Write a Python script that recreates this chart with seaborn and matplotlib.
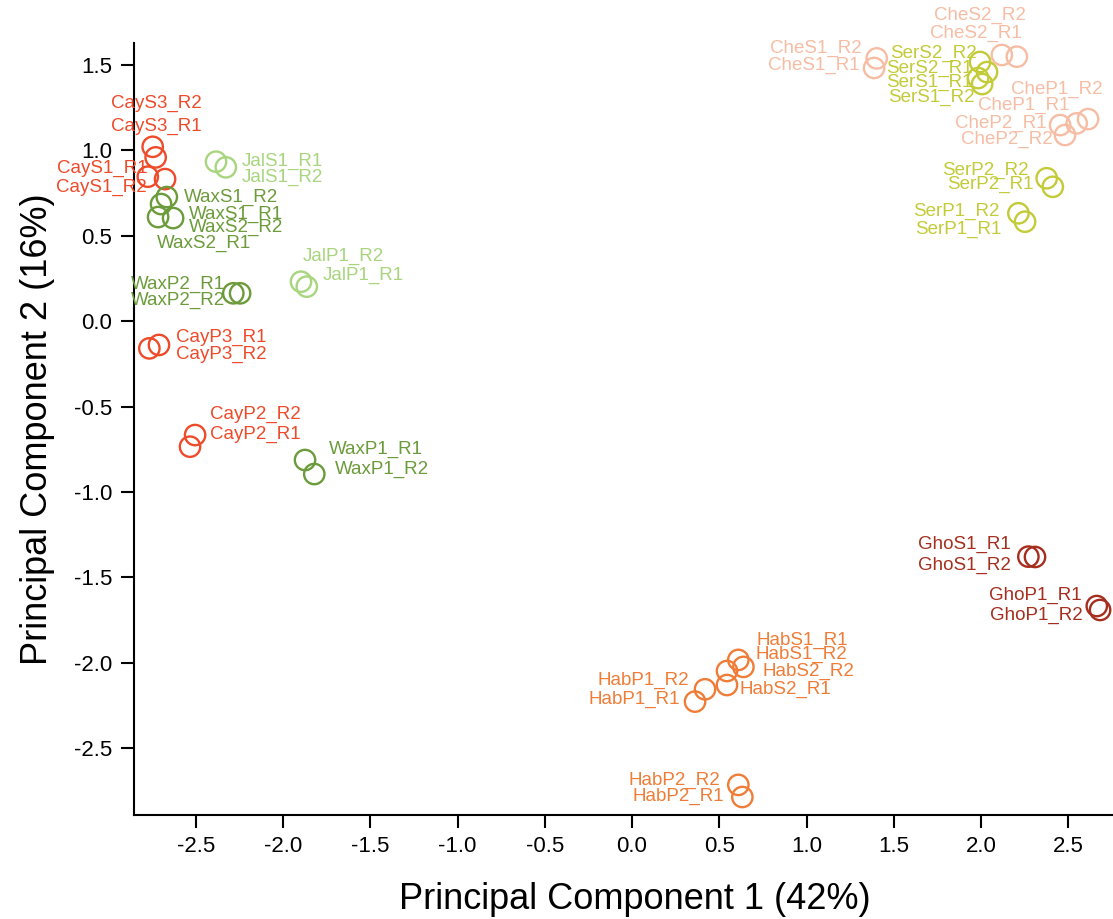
import matplotlib
matplotlib.use("Agg")
import matplotlib.pyplot as plt
import seaborn as sns
import pandas as pd

# ---------------- data ----------------
groups = ["Cay", "Wax", "Jal", "Che", "Ser", "Hab", "Gho"]
group_colors = ["#EE4B2B", "#6B9B3A", "#A8D57E", "#F6BDA4", "#C3CB38", "#EF7D38", "#A52F1F"]

sample_names = [
    "CayS3_R2", "CayS3_R1", "CayS1_R1", "CayS1_R2", "CayP3_R1", "CayP3_R2", "CayP2_R2", "CayP2_R1",
    "WaxS1_R2", "WaxS1_R1", "WaxS2_R2", "WaxS2_R1", "WaxP2_R1", "WaxP2_R2", "WaxP1_R1", "WaxP1_R2",
    "JalS1_R1", "JalS1_R2", "JalP1_R2", "JalP1_R1",
    "CheS1_R2", "CheS1_R1", "CheS2_R2", "CheS2_R1", "CheP1_R2", "CheP1_R1", "CheP2_R1", "CheP2_R2",
    "SerS2_R2", "SerS2_R1", "SerS1_R1", "SerS1_R2", "SerP2_R2", "SerP2_R1", "SerP1_R2", "SerP1_R1",
    "HabS1_R1", "HabS1_R2", "HabS2_R2", "HabS2_R1", "HabP1_R2", "HabP1_R1", "HabP2_R2", "HabP2_R1",
    "GhoS1_R1", "GhoS1_R2", "GhoP1_R1", "GhoP1_R2",
]

pc1 = [
    -2.747, -2.730, -2.775, -2.676, -2.711, -2.766, -2.504, -2.533,
    -2.666, -2.699, -2.630, -2.716, -2.285, -2.246, -1.874, -1.821,
    -2.384, -2.328, -1.897, -1.864,
    1.402, 1.387, 2.119, 2.205, 2.613, 2.548, 2.453, 2.481,
    1.994, 2.034, 1.983, 2.006, 2.376, 2.411, 2.214, 2.252,
    0.609, 0.638, 0.544, 0.544, 0.418, 0.361, 0.609, 0.632,
    2.271, 2.309, 2.663, 2.682,
]

pc2 = [
    1.019, 0.957, 0.844, 0.830, -0.140, -0.160, -0.667, -0.735,
    0.725, 0.684, 0.602, 0.608, 0.162, 0.162, -0.813, -0.895,
    0.932, 0.899, 0.230, 0.201,
    1.536, 1.480, 1.556, 1.546, 1.181, 1.156, 1.146, 1.088,
    1.515, 1.456, 1.421, 1.386, 0.835, 0.785, 0.630, 0.581,
    -1.982, -2.023, -2.047, -2.129, -2.154, -2.226, -2.713, -2.784,
    -1.378, -1.380, -1.667, -1.690,
]

# ---------------- label placement (pixel offsets, alignment) ----------------
label_dx = [
    4, 1, 0, -18, 17, 27, 15, 20,
    17, 28, 16, -1, -8, -15, 24, 21,
    26, 16, 2, 16,
    -15, -14, -22, -41, -31, -7, -14, -12,
    -3, -14, -5, -7, -18, -19, -19, -24,
    18, 12, 36, 13, -16, -15, -18, -18,
    -18, -24, -15, -17,
]
label_dy = [
    43, 31, 8, -8, 8, -6, 21, 12,
    0, -10, -9, -26, 9, -7, 11, 5,
    0, -10, 25, 11,
    10, 3, 40, 23, 30, 18, 2, -4,
    9, 4, -4, -13, 8, 2, 2, -8,
    19, 12, 0, -4, 9, 2, 4, 1,
    12, -8, 11, -5,
]
label_ha = [
    "center", "center", "right", "right", "left", "left", "left", "left",
    "left", "left", "left", "left", "right", "right", "left", "left",
    "left", "left", "left", "left",
    "right", "right", "center", "center", "center", "right", "right", "right",
    "right", "right", "right", "right", "right", "right", "right", "right",
    "left", "left", "left", "left", "right", "right", "right", "right",
    "right", "right", "right", "right",
]

df = pd.DataFrame({"PC1": pc1, "PC2": pc2, "sample": sample_names})
df["group"] = df["sample"].str[:3]
palette = dict(zip(groups, group_colors))

# ---------------- figure ----------------
sns.set_style("ticks")
plt.rcParams["font.family"] = ["Liberation Sans", "DejaVu Sans"]
plt.rcParams["axes.unicode_minus"] = False

fig = plt.figure(figsize=(11.13, 9.19), dpi=100)
ax = fig.add_axes([0.1204, 0.1132, 0.9003, 0.840])

sns.scatterplot(data=df, x="PC1", y="PC2", hue="group", hue_order=groups,
                palette=palette, s=215, linewidth=1.7, legend=False, ax=ax, zorder=3)
coll = ax.collections[0]
fc = coll.get_facecolors()
coll.set_edgecolors(fc)
coll.set_facecolors("none")

for i, name in enumerate(sample_names):
    col = palette[name[:3]]
    ax.annotate(name, (pc1[i], pc2[i]), xytext=(label_dx[i], label_dy[i]),
                textcoords="offset pixels", ha=label_ha[i], va="center",
                fontsize=13.5, color=col, zorder=4)

ax.set_xlim(-2.854, 2.888)
ax.set_ylim(-2.889, 1.626)
ax.set_xticks([-2.5, -2.0, -1.5, -1.0, -0.5, 0.0, 0.5, 1.0, 1.5, 2.0, 2.5])
ax.set_yticks([-2.5, -2.0, -1.5, -1.0, -0.5, 0.0, 0.5, 1.0, 1.5])
ax.tick_params(axis="both", labelsize=16, length=9.5, width=1.5, direction="out",
               pad=6, colors="black")
for side in ["top", "right"]:
    ax.spines[side].set_visible(False)
for side in ["left", "bottom"]:
    ax.spines[side].set_linewidth(1.5)
    ax.spines[side].set_color("black")

ax.set_xlabel("Principal Component 1 (42%)", fontsize=26, labelpad=18, color="black")
ax.set_ylabel("Principal Component 2 (16%)", fontsize=26, labelpad=14, color="black")

fig.savefig("out.png", dpi=100)
